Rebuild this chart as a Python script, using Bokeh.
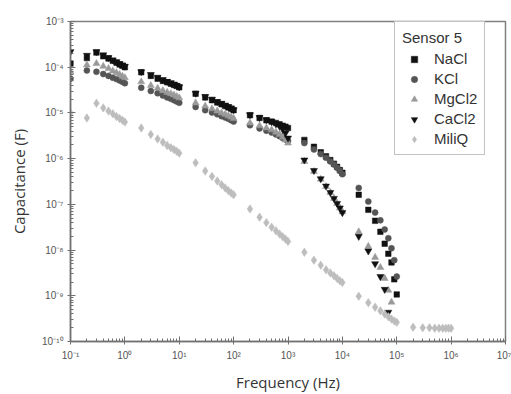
from bokeh.plotting import figure
from bokeh.embed import file_html
from bokeh.resources import INLINE
from bokeh.models import FixedTicker, CustomJSTickFormatter, Legend, LegendItem

# ---------------- data ----------------
FREQ = [0.1, 0.2, 0.3, 0.4, 0.5, 0.6, 0.7, 0.8, 0.9,
        1, 2, 3, 4, 5, 6, 7, 8, 9,
        10, 20, 30, 40, 50, 60, 70, 80, 90,
        100, 200, 300, 400, 500, 600, 700, 800, 900,
        1e3, 2e3, 3e3, 4e3, 5e3, 6e3, 7e3, 8e3, 9e3,
        1e4, 2e4, 3e4, 4e4, 5e4, 6e4, 7e4, 8e4, 9e4,
        1e5, 2e5, 3e5, 4e5, 5e5, 6e5, 7e5, 8e5, 9e5, 1e6]

# log10 of capacitance (F)
NACL_LOG = [-3.92, -3.80, -3.68, -3.76, -3.81, -3.86, -3.90, -3.94, -3.97,
            -4.00, -4.11, -4.19, -4.25, -4.30, -4.33, -4.36, -4.39, -4.41,
            -4.44, -4.58, -4.66, -4.72, -4.77, -4.81, -4.85, -4.88, -4.91,
            -4.94, -5.05, -5.11, -5.16, -5.19, -5.22, -5.25, -5.28, -5.30,
            -5.33, -5.59, -5.74, -5.86, -5.95, -6.03, -6.11, -6.18, -6.25,
            -6.31, -6.79, -7.12, -7.36, -7.60, -7.86, -8.08, -8.27, -8.64,
            -8.97]
KCL_LOG = [-4.25, -4.07, -4.10, -4.15, -4.19, -4.23, -4.26, -4.29, -4.32,
           -4.35, -4.45, -4.52, -4.57, -4.62, -4.66, -4.69, -4.72, -4.75,
           -4.78, -4.87, -4.94, -4.99, -5.03, -5.07, -5.10, -5.13, -5.16,
           -5.19, -5.27, -5.34, -5.39, -5.43, -5.47, -5.51, -5.55, -5.58,
           -5.61, -5.66, -5.80, -5.90, -5.98, -6.06, -6.13, -6.20, -6.27,
           -6.34, -6.64, -6.94, -7.18, -7.35, -7.55, -7.74, -7.96, -8.22,
           -8.58]
MGCL2_LOG = [-4.10, -3.95, -3.92, -3.98, -4.03, -4.08, -4.12, -4.16, -4.20,
             -4.23, -4.32, -4.40, -4.46, -4.51, -4.55, -4.58, -4.61, -4.64,
             -4.67, -4.78, -4.85, -4.91, -4.96, -5.00, -5.03, -5.06, -5.09,
             -5.12, -5.22, -5.28, -5.33, -5.37, -5.42, -5.47, -5.53, -5.59,
             -5.66, -6.06, -6.28, -6.45, -6.61, -6.74, -6.87, -6.98, -7.08,
             -7.16, -7.60, -7.92, -8.16, -8.38, -8.62, -8.88, -9.14]
CACL2_LOG = [-3.66, -3.74, -3.66, -3.73, -3.79, -3.84, -3.88, -3.92, -3.95,
             -3.98, -4.10, -4.16, -4.22, -4.27, -4.31, -4.34, -4.37, -4.40,
             -4.43, -4.57, -4.64, -4.70, -4.75, -4.79, -4.83, -4.86, -4.89,
             -4.93, -5.04, -5.10, -5.15, -5.19, -5.24, -5.29, -5.36, -5.44,
             -5.55, -6.03, -6.26, -6.44, -6.60, -6.74, -6.87, -6.98, -7.08,
             -7.18, -7.70, -8.02, -8.30, -8.58, -8.86, -9.36]
MILIQ_LOG = [-5.00, -5.11, -4.79, -4.89, -4.96, -5.02, -5.08, -5.12, -5.16,
             -5.20, -5.33, -5.47, -5.57, -5.64, -5.71, -5.76, -5.80, -5.84,
             -5.88, -6.09, -6.27, -6.39, -6.49, -6.57, -6.64, -6.70, -6.75,
             -6.79, -7.10, -7.28, -7.40, -7.50, -7.58, -7.65, -7.71, -7.76,
             -7.81, -8.05, -8.22, -8.33, -8.43, -8.50, -8.56, -8.62, -8.67,
             -8.71, -9.01, -9.15, -9.25, -9.33, -9.40, -9.46, -9.51, -9.55,
             -9.58, -9.69, -9.70, -9.70, -9.71, -9.71, -9.71, -9.71, -9.71, -9.71]

SERIES = ["NaCl", "KCl", "MgCl2", "CaCl2", "MiliQ"]
X_DECADES = [-1, 0, 1, 2, 3, 4, 5, 6, 7]
Y_DECADES = [-10, -9, -8, -7, -6, -5, -4, -3]

# ---------------- figure ----------------
p = figure(width=511, height=394, x_axis_type="log", y_axis_type="log",
           x_range=(0.1, 1e7), y_range=(1e-10, 1e-3),
           output_backend="svg", toolbar_location=None,
           min_border_left=70, min_border_right=6, min_border_top=21,
           min_border_bottom=52)
p.background_fill_color = "white"
p.border_fill_color = "white"
p.xgrid.visible = False
p.ygrid.visible = False
p.outline_line_color = "#808080"
p.outline_line_width = 1.5

styles = [
    ("square", "#111111", 5.5),
    ("circle", "#555555", 6),
    ("triangle", "#9a9a9a", 7),
    ("inverted_triangle", "#111111", 7),
    ("diamond", "#bdbdbd", 8.5),
]
logs = [NACL_LOG, KCL_LOG, MGCL2_LOG, CACL2_LOG, MILIQ_LOG]
renderers = []
for name, lg, (marker, col, sz) in zip(SERIES, logs, styles):
    xs = FREQ[:len(lg)]
    ys = [10 ** v for v in lg]
    r = p.scatter(xs, ys, marker=marker, size=sz, fill_color=col,
                  line_color=col, line_width=0.5)
    renderers.append(r)

xmaj = [10.0 ** d for d in X_DECADES]
xmin = [k * 10.0 ** d for d in X_DECADES[:-1] for k in range(2, 10)]
ymaj = [10.0 ** d for d in Y_DECADES]
ymin = [k * 10.0 ** d for d in Y_DECADES[:-1] for k in range(2, 10)]
p.xaxis.ticker = FixedTicker(ticks=xmaj, minor_ticks=xmin)
p.yaxis.ticker = FixedTicker(ticks=ymaj, minor_ticks=ymin)

fmt = CustomJSTickFormatter(code="""
const sup = {'-':'\u207b','0':'\u2070','1':'\u00b9','2':'\u00b2','3':'\u00b3',
             '4':'\u2074','5':'\u2075','6':'\u2076','7':'\u2077','8':'\u2078','9':'\u2079'};
const e = Math.round(Math.log10(tick));
return '10' + String(e).split('').map(c => sup[c]).join('');
""")
for ax in (p.xaxis, p.yaxis):
    ax.formatter = fmt
    ax.axis_line_color = "#707070"
    ax.axis_line_width = 1.5
    ax.major_tick_line_color = "#707070"
    ax.minor_tick_line_color = "#707070"
    ax.major_tick_in = 5
    ax.major_tick_out = 3
    ax.minor_tick_in = 3
    ax.minor_tick_out = 0
    ax.major_label_text_font = "Liberation Sans"
    ax.major_label_text_font_size = "10px"
    ax.major_label_text_color = "#555555"
    ax.axis_label_text_font = "Open Sans"
    ax.axis_label_text_font_size = "15px"
    ax.axis_label_text_font_style = "normal"
    ax.axis_label_text_color = "#333333"

p.xaxis.axis_label = "Frequency (Hz)"
p.yaxis.axis_label = "Capacitance (F)"
p.xaxis.major_label_standoff = 5
p.yaxis.major_label_standoff = 4
p.xaxis.axis_label_standoff = 8
p.yaxis.axis_label_standoff = 10

legend = Legend(items=[LegendItem(label=n, renderers=[r]) for n, r in zip(SERIES, renderers)],
                location=(324, 186))
legend.title = "Sensor 5"
legend.title_text_font = "Liberation Sans"
legend.title_text_font_size = "15px"
legend.title_text_font_style = "normal"
legend.title_text_color = "#333333"
legend.title_standoff = 4
legend.label_text_font = "Liberation Sans"
legend.label_text_font_size = "15px"
legend.label_text_color = "#333333"
legend.label_height = 16
legend.glyph_height = 16
legend.glyph_width = 24
legend.label_standoff = 8
legend.spacing = 3
legend.padding = 7
legend.margin = 0
legend.border_line_color = "#888888"
legend.border_line_width = 1.5
legend.background_fill_color = "white"
legend.background_fill_alpha = 1
p.add_layout(legend)

open("out.html", "w").write(file_html(p, INLINE))
